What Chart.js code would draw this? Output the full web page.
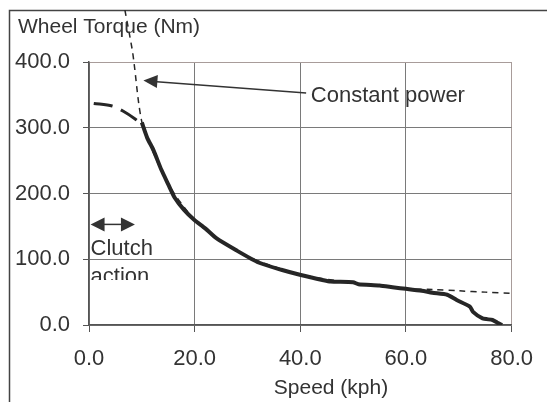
<!DOCTYPE html>
<html>
<head>
<meta charset="utf-8">
<script src="https://cdn.jsdelivr.net/npm/chart.js@4.4.1/dist/chart.umd.min.js"></script>
<style>
html, body { margin: 0; padding: 0; background: #fff; }
canvas { display: block; }
</style>
</head>
<body>
<canvas id="torqueChart" width="547" height="402"></canvas>
<script>
// measured wheel torque (solid)
const speedMeasured = [10.0, 11.0, 12.2, 13.7, 15.0, 16.2, 18.0, 19.9, 22.0, 24.1, 27.8, 32.1, 36.4, 40.1, 44.4, 45.7, 50.0, 51.0, 55.0, 57.8, 60.0, 63.0, 65.0, 67.8, 69.6, 72.1, 72.7, 74.5, 76.4, 77.3, 78.2];
const torqueMeasured = [308, 285, 266, 236, 214, 194, 175, 160, 147, 132, 114, 95, 84, 76, 68, 66, 65, 62, 60, 57, 55, 52, 49, 46, 38, 28, 20, 10, 7.6, 3.5, 0];

// clutch action region (long dash)
const speedClutch = [0.9, 4.4, 6.5, 8.8, 10.0];
const torqueClutch = [337, 333, 325, 313, 305];

// constant power line (short dash)
const speedPower = [6.8, 8.2, 8.5, 10.0, 12.2, 15.0, 20.0, 25.0, 30.0, 40.0, 50.0, 60.0, 65.0, 70.0, 75.0, 80.0, 84.4];
const torquePower = [479, 418, 400, 309, 262, 214, 160, 128, 104, 77, 64, 55, 54, 52, 50, 48, 46];

const xTicks = [0, 20, 40, 60, 80];
const yTicks = [0, 100, 200, 300, 400];

const toPoints = (xs, ys) => xs.map((x, i) => ({ x: x, y: ys[i] }));

function arrowHead(ctx, tx, ty, fx, fy, len, half) {
    const a = Math.atan2(ty - fy, tx - fx);
    ctx.beginPath();
    ctx.moveTo(tx, ty);
    ctx.lineTo(tx - len * Math.cos(a) + half * Math.sin(a), ty - len * Math.sin(a) - half * Math.cos(a));
    ctx.lineTo(tx - len * Math.cos(a) - half * Math.sin(a), ty - len * Math.sin(a) + half * Math.cos(a));
    ctx.closePath();
    ctx.fill();
}

const annotations = {
    id: 'annotations',
    beforeDraw(chart) {
        const ctx = chart.ctx;
        ctx.save();
        ctx.fillStyle = '#fff';
        ctx.fillRect(0, 0, chart.width, chart.height);
        // outer frame
        ctx.strokeStyle = '#444';
        ctx.lineWidth = 1.5;
        ctx.beginPath();
        ctx.moveTo(9.5, chart.height);
        ctx.lineTo(9.5, 10.5);
        ctx.lineTo(chart.width, 10.5);
        ctx.stroke();
        ctx.restore();
    },
    afterDatasetsDraw(chart) {
        const ctx = chart.ctx;
        const xs = chart.scales.x, ys = chart.scales.y;
        ctx.save();
        ctx.fillStyle = '#333';
        ctx.strokeStyle = '#333';
        ctx.lineWidth = 1.5;

        // Constant power arrow
        const tipX = xs.getPixelForValue(10.3), tipY = ys.getPixelForValue(372);
        const tailX = xs.getPixelForValue(41.1), tailY = ys.getPixelForValue(353);
        ctx.beginPath();
        ctx.moveTo(tailX, tailY);
        ctx.lineTo(tipX + 10, tipY + 1);
        ctx.stroke();
        arrowHead(ctx, tipX, tipY, tailX, tailY, 14, 6.5);

        // Clutch arrow
        const cy = ys.getPixelForValue(153);
        const c0 = xs.getPixelForValue(0.3), c1 = xs.getPixelForValue(8.7);
        ctx.beginPath();
        ctx.moveTo(c0 + 10, cy);
        ctx.lineTo(c1 - 10, cy);
        ctx.stroke();
        arrowHead(ctx, c0, cy, c1, cy, 14, 7);
        arrowHead(ctx, c1, cy, c0, cy, 14, 7);

        // texts
        ctx.font = '22px "Liberation Sans", Arial, sans-serif';
        ctx.textAlign = 'left';
        ctx.textBaseline = 'middle';
        ctx.fillText('Constant power', xs.getPixelForValue(42.0), ys.getPixelForValue(348));

        ctx.textBaseline = 'alphabetic';
        ctx.fillText('Clutch', c0, ys.getPixelForValue(106.5));
        // the text box cuts off the bottom of the second line
        ctx.save();
        ctx.beginPath();
        ctx.rect(c0 - 2, ys.getPixelForValue(100), 80, ys.getPixelForValue(68.4) - ys.getPixelForValue(100));
        ctx.clip();
        ctx.fillText('action', c0, ys.getPixelForValue(64.5));
        ctx.restore();

        // axis titles
        ctx.font = '21px "Liberation Sans", Arial, sans-serif';
        ctx.fillText('Wheel Torque (Nm)', 18, 33);
        ctx.textAlign = 'center';
        ctx.fillText('Speed (kph)', 331, 394);
        ctx.restore();
    }
};

const ctx = document.getElementById('torqueChart').getContext('2d');
new Chart(ctx, {
    type: 'line',
    data: {
        datasets: [{
            label: 'Wheel torque',
            data: toPoints(speedMeasured, torqueMeasured),
            borderColor: '#262626',
            borderWidth: 4,
            pointRadius: 0,
            tension: 0.2,
            fill: false
        }, {
            label: 'Clutch action',
            data: toPoints(speedClutch, torqueClutch),
            borderColor: '#262626',
            borderWidth: 3,
            borderDash: [19, 9],
            pointRadius: 0,
            tension: 0.3,
            fill: false
        }, {
            label: 'Constant power',
            data: toPoints(speedPower, torquePower),
            borderColor: '#262626',
            borderWidth: 1.5,
            borderDash: [6, 5],
            pointRadius: 0,
            tension: 0.3,
            fill: false,
            clip: false
        }]
    },
    options: {
        responsive: false,
        animation: false,
        layout: { padding: { top: 62, right: 24, left: 0, bottom: 0 } },
        scales: {
            x: {
                type: 'linear',
                min: 0,
                max: 80,
                afterBuildTicks: function (scale) {
                    scale.ticks = xTicks.map(v => ({ value: v }));
                },
                afterFit: function (scale) { scale.height = 77; },
                grid: {
                    color: context => context.tick && context.tick.value === 80 ? '#a89c9a' : '#7a7a7a',
                    tickColor: '#555',
                    tickLength: 7
                },
                border: { color: '#555', width: 1.5 },
                ticks: {
                    padding: 14,
                    color: '#333',
                    maxRotation: 0,
                    font: { family: '"Liberation Sans", Arial, sans-serif', size: 22 },
                    callback: function (value) { return value.toFixed(1); }
                }
            },
            y: {
                min: 0,
                max: 400,
                afterBuildTicks: function (scale) {
                    scale.ticks = yTicks.map(v => ({ value: v }));
                },
                afterFit: function (scale) { scale.width = 89; },
                grid: {
                    color: context => context.tick && context.tick.value === 400 ? '#a89c9a' : '#7a7a7a',
                    tickColor: '#555',
                    tickLength: 6
                },
                border: { color: '#555', width: 1.5 },
                ticks: {
                    padding: 13,
                    color: '#333',
                    font: { family: '"Liberation Sans", Arial, sans-serif', size: 22 },
                    callback: function (value) { return value.toFixed(1); }
                }
            }
        },
        plugins: {
            legend: { display: false },
            tooltip: { enabled: false }
        }
    },
    plugins: [annotations]
});
</script>
</body>
</html>
